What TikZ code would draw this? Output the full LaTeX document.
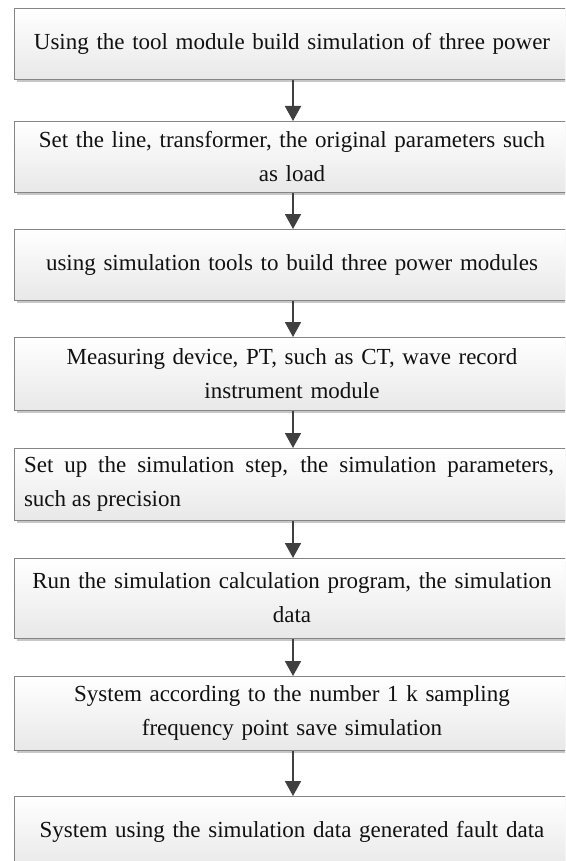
\documentclass[tikz,border=0pt]{standalone}
\usepackage{fontspec}
\setmainfont{Liberation Serif}
\usetikzlibrary{arrows.meta,shadows}
\definecolor{boxline}{HTML}{858585}
\definecolor{arrowc}{HTML}{404040}
\definecolor{txt}{HTML}{111111}
\tikzset{
  stepbox/.style={draw=boxline, line width=1pt, rectangle, anchor=north west,
    minimum width=600pt, inner sep=0pt,
    top color=white, bottom color=black!9,
    drop shadow={shadow xshift=2.5pt, shadow yshift=-2.5pt, fill=black!22, opacity=1}},
  steptext/.style={align=center, text width=560pt, inner sep=0pt, text=txt,
    font=\fontsize{23}{34}\selectfont},
  flowarrow/.style={draw=arrowc, line width=1.8pt,
    -{Triangle[width=16pt,length=15pt]}, arrowc}
}
\begin{document}
\begin{tikzpicture}[x=1pt,y=-1pt]
\useasboundingbox (0,0) rectangle (565,861);
\clip (0,0) rectangle (565,861);
\fill[white] (0,0) rectangle (565,861);
\coordinate (ax) at (293,0);

\node[stepbox, minimum height=71pt] (b1) at (14,8) {};
\node[stepbox, minimum height=71pt] (b2) at (14,121) {};
\node[stepbox, minimum height=71pt] (b3) at (14,229) {};
\node[stepbox, minimum height=73pt] (b4) at (14,337) {};
\node[stepbox, minimum height=72pt] (b5) at (14,448) {};
\node[stepbox, minimum height=80pt] (b6) at (14,558) {};
\node[stepbox, minimum height=74pt] (b7) at (14,676) {};
\node[stepbox, minimum height=72pt] (b8) at (14,796) {};

\node[steptext] (t1) at (292,43.5) {Using the tool module build simulation of three power};
\node[steptext] (t2) at (292,157) {Set the line, transformer, the original parameters such\\as load};
\node[steptext] (t3) at (292,265) {using simulation tools to build three power modules};
\node[steptext] (t4) at (292,374) {Measuring device, PT, such as CT, wave record\\instrument module};
\node[steptext, align=justify, text width=530pt] (t5) at (289,484) {Set up the simulation step, the simulation parameters,\linebreak such as precision};
\node[steptext] (t6) at (292,598) {Run the simulation calculation program, the simulation\\data};
\node[steptext] (t7) at (292,713) {System according to the number 1 k sampling\\frequency point save simulation};
\node[steptext] (t8) at (292,832) {System using the simulation data generated fault data};

\draw[flowarrow] (b1.south -| ax) -- (b2.north -| ax);
\draw[flowarrow] (b2.south -| ax) -- (b3.north -| ax);
\draw[flowarrow] (b3.south -| ax) -- (b4.north -| ax);
\draw[flowarrow] (b4.south -| ax) -- (b5.north -| ax);
\draw[flowarrow] (b5.south -| ax) -- (b6.north -| ax);
\draw[flowarrow] (b6.south -| ax) -- (b7.north -| ax);
\draw[flowarrow] (b7.south -| ax) -- (b8.north -| ax);
\end{tikzpicture}
\end{document}
